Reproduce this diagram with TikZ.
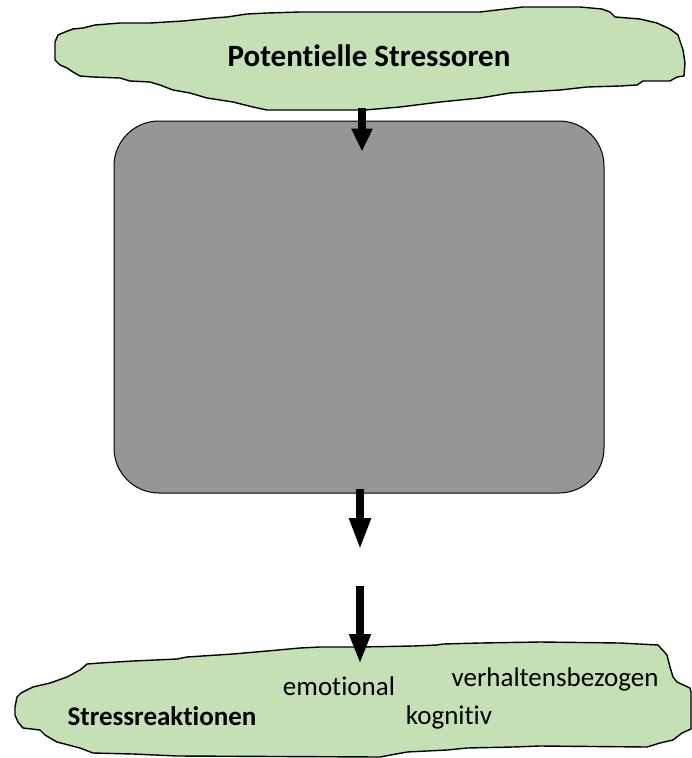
\documentclass[tikz,border=0pt]{standalone}
\usepackage{fontspec}
\setmainfont[Ligatures=CommonOff]{Carlito}
\usetikzlibrary{arrows.meta}
\definecolor{blattgruen}{HTML}{C5E0B4}
\definecolor{kastengrau}{HTML}{969696}
\tikzset{
  wolke/.style={draw=black, line width=1.4pt, fill=blattgruen, line join=round},
  pfeil/.style={line width=8pt, -{Triangle[width=20pt,length=#1]}},
  pfeil/.default=30pt,
  wort/.style={font=\fontsize{27}{32}\selectfont, anchor=base, inner sep=0pt},
  fett/.style={wort, font=\bfseries\fontsize{27}{32}\selectfont}
}

\begin{document}
\begin{tikzpicture}[x=1pt, y=-1pt]
    \useasboundingbox (0,0) rectangle (692,758);

    \draw[wolke] plot coordinates {(55,42) (58,35) (65,32) (73,29) (83,28) (95,25) (120,23) (150,23)
        (183,21) (213,18) (227,17) (247,14) (267,13) (300,12) (480,12) (523,7) (580,7) (602,9)
        (610,12) (615,17) (640,19) (657,23) (670,29) (678,35) (683,50) (685,63) (684,76) (677,77)
        (670,81) (643,81) (637,85) (620,86) (587,87) (560,90) (510,93) (480,98) (440,102) (400,107)
        (365,110) (267,110) (253,107) (233,102) (220,100) (207,98) (190,93) (173,90) (160,85)
        (150,82) (130,81) (120,78) (93,77) (80,76) (73,72) (67,68) (60,65) (55,60)} -- cycle;
    \node[fett, font=\bfseries\fontsize{31}{37}\selectfont] (titel) at (369,66) {Potentielle Stressoren};

    \node[draw=black, line width=1pt, fill=kastengrau, rounded corners=45pt,
          minimum width=490pt, minimum height=372pt] (kasten) at (359,307) {};

    \coordinate (quelle) at (362,108);
    \draw[pfeil=23pt] (quelle) -- ([xshift=3pt, yshift=-31pt]kasten.north);

    \coordinate (luecke) at (360,550);
    \draw[pfeil=32pt] ([xshift=1pt, yshift=5pt]kasten.south) -- (luecke);

    \draw[wolke] plot coordinates {(15,707) (17,697) (21,693) (33,687) (50,683) (67,677) (80,670)
        (87,664) (100,663) (133,661) (177,659) (187,657) (233,654) (267,651) (300,648) (320,647)
        (360,647) (413,646) (437,645) (443,644) (480,643) (540,642) (620,643) (658,645) (667,655)
        (670,667) (673,677) (677,682) (690,688) (691,692) (691,729) (682,733) (673,740) (660,743)
        (647,747) (540,746) (513,747) (467,748) (447,750) (407,752) (380,757) (177,756) (133,754)
        (93,753) (80,748) (57,742) (45,735) (40,730) (23,728) (18,722) (15,715)} -- cycle;

    \coordinate (wieder) at (360,586);
    \coordinate (ziel) at (360,664);
    \draw[pfeil=30pt] (wieder) -- (ziel);

    \node[fett] (reaktion) at (162,725) {Stressreaktionen};
    \node[wort] (emo) at (339,695) {emotional};
    \node[wort] (kog) at (449,724) {kognitiv};
    \node[wort] (verh) at (555,686) {verhaltensbezogen};
\end{tikzpicture}
\end{document}
